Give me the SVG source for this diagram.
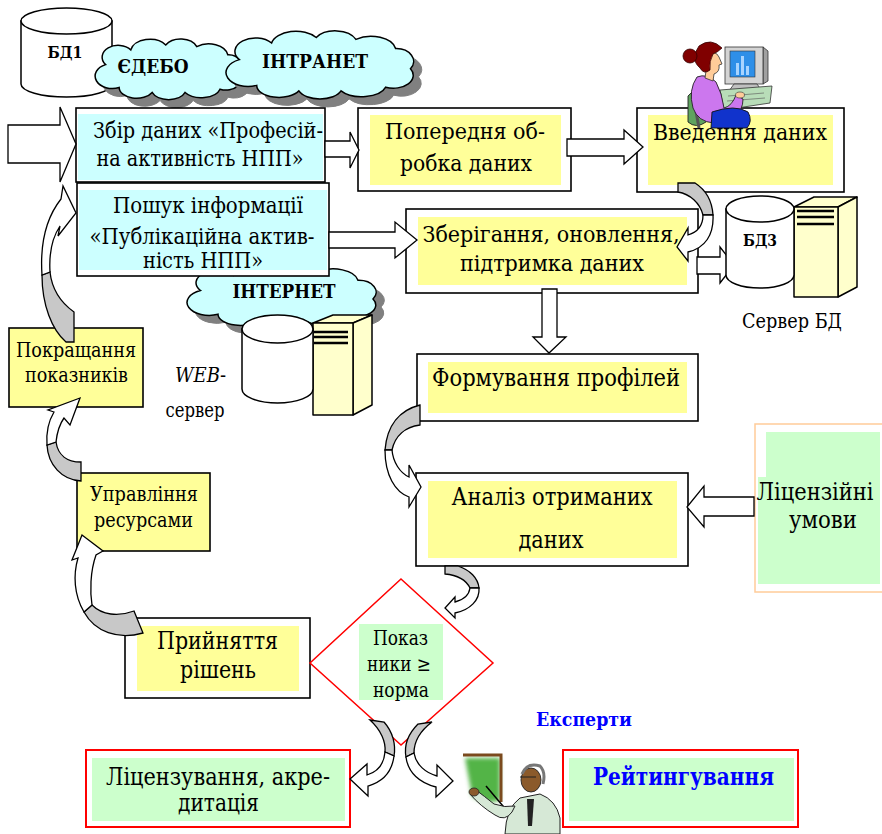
<svg xmlns="http://www.w3.org/2000/svg" width="882" height="834" viewBox="0 0 882 834">
<style>
  .t { font-family: "DejaVu Serif Condensed", "DejaVu Serif", "Liberation Serif", serif; font-stretch: condensed; fill: #000; }
  .b { font-weight: bold; }
  .box { fill: #fff; stroke: #000; stroke-width: 1.6; }
  .yel { fill: #FFFF99; }
  .cyan { fill: #CCFFFF; }
  .grn { fill: #CCFFCC; }
  .redbox { fill: #fff; stroke: #FF0000; stroke-width: 2; }
  .ar { fill: #fff; stroke: #000; stroke-width: 1.3; stroke-linejoin: miter; }
  .gr { fill: #C8C8C8; stroke: #000; stroke-width: 1.3; }
  .cyl { fill: #fff; stroke: #000; stroke-width: 1.5; }
  .srv { fill: #FFFFCC; stroke: #000; stroke-width: 1.5; stroke-linejoin: round; }
  .slot { stroke: #000; stroke-width: 2.5; }
</style>
<defs>
  <path id="cloud" vector-effect="non-scaling-stroke" d="M 14 30 A 16 14 0 0 1 40 12 A 20 16 0 0 1 76 6 A 18 15 0 0 1 108 8 A 20 16 0 0 1 140 18 A 14 14 0 0 1 152 40 A 16 14 0 0 1 132 60 A 20 14 0 0 1 96 64 A 18 13 0 0 1 62 64 A 18 13 0 0 1 28 58 A 14 12 0 0 1 14 30 Z"/>
  <filter id="soft" x="-20%" y="-20%" width="140%" height="140%">
    <feGaussianBlur stdDeviation="2"/>
  </filter>
</defs>

<!-- database БД1 -->
<g id="db1">
  <path class="cyl" d="M 21 21 L 21 84 A 45.5 13 0 0 0 112 84 L 112 21 Z"/>
  <ellipse class="cyl" cx="66.5" cy="21" rx="45.5" ry="13"/>
  <text class="t b" x="65" y="58" font-size="16" text-anchor="middle" textLength="35" lengthAdjust="spacingAndGlyphs">БД1</text>
</g>

<!-- network clouds -->
<g id="cloud-edebo">
  <use href="#cloud" transform="translate(100 48) scale(0.97 0.82)" fill="#808080" stroke="#808080"/>
  <use href="#cloud" transform="translate(92 40) scale(0.97 0.82)" fill="#CCFFFF" stroke="#000" stroke-width="1.5"/>
  <text class="t b" x="153" y="73" font-size="18" text-anchor="middle" textLength="71" lengthAdjust="spacingAndGlyphs">ЄДЕБО</text>
</g>
<g id="cloud-intranet">
  <use href="#cloud" transform="translate(230 40) scale(1.24 0.92)" fill="#808080" stroke="#808080"/>
  <use href="#cloud" transform="translate(222 32) scale(1.24 0.92)" fill="#CCFFFF" stroke="#000" stroke-width="1.5"/>
  <text class="t b" x="315" y="68" font-size="19" text-anchor="middle" textLength="106" lengthAdjust="spacingAndGlyphs">ІНТРАНЕТ</text>
</g>
<g id="cloud-internet">
  <use href="#cloud" transform="translate(191 273) scale(1.25 0.85)" fill="#808080" stroke="#808080"/>
  <use href="#cloud" transform="translate(183 265) scale(1.25 0.85)" fill="#CCFFFF" stroke="#000" stroke-width="1.5"/>
  <text class="t b" x="284" y="298" font-size="19" text-anchor="middle" textLength="103" lengthAdjust="spacingAndGlyphs">ІНТЕРНЕТ</text>
</g>

<!-- WEB server -->
<g id="web-server">
  <polygon class="srv" points="313,323 333,315 372,315 353,323"/>
  <polygon class="srv" points="353,323 372,315 372,405 353,415"/>
  <rect class="srv" x="313" y="323" width="40" height="92"/>
  <line class="slot" x1="314" y1="332" x2="348" y2="332"/>
  <line class="slot" x1="314" y1="337" x2="348" y2="337"/>
  <line class="slot" x1="314" y1="343" x2="348" y2="343"/>
  <path class="cyl" d="M 242 329 L 242 389 A 35.5 14 0 0 0 313 389 L 313 329 Z"/>
  <ellipse class="cyl" cx="277.5" cy="329" rx="35.5" ry="14"/>
  <text class="t" x="175" y="382" font-size="20" textLength="51" lengthAdjust="spacingAndGlyphs"><tspan font-style="italic">WEB</tspan>-</text>
  <text class="t" x="195" y="417" font-size="20" text-anchor="middle" textLength="59" lengthAdjust="spacingAndGlyphs">сервер</text>
</g>

<!-- process boxes -->
<g id="collect">
  <rect class="box" x="76" y="108" width="249" height="74"/>
  <rect class="cyan" x="78" y="114" width="245" height="66"/>
  <text class="t" font-size="22" text-anchor="middle" x="208" y="138" textLength="230" lengthAdjust="spacingAndGlyphs">Збір даних «Професій-</text>
  <text class="t" font-size="22" text-anchor="middle" x="200" y="166" textLength="207" lengthAdjust="spacingAndGlyphs">на активність НПП»</text>
</g>
<g id="search">
  <rect class="box" x="77" y="183" width="252" height="93"/>
  <rect class="cyan" x="79" y="190" width="248" height="80"/>
  <text class="t" font-size="22" text-anchor="middle" x="208" y="213" textLength="190" lengthAdjust="spacingAndGlyphs">Пошук інформації</text>
  <text class="t" font-size="22" text-anchor="middle" x="202" y="244" textLength="225" lengthAdjust="spacingAndGlyphs">«Публікаційна актив-</text>
  <text class="t" font-size="22" text-anchor="middle" x="203" y="268" textLength="120" lengthAdjust="spacingAndGlyphs">ність НПП»</text>
</g>
<g id="preprocess">
  <rect class="box" x="358" y="108" width="213" height="83"/>
  <rect class="yel" x="370" y="115" width="191" height="70"/>
  <text class="t" font-size="23" text-anchor="middle" x="465" y="139" textLength="160" lengthAdjust="spacingAndGlyphs">Попередня об-</text>
  <text class="t" font-size="23" text-anchor="middle" x="466" y="171" textLength="132" lengthAdjust="spacingAndGlyphs">робка даних</text>
</g>
<g id="input">
  <rect class="box" x="637" y="108" width="207" height="84"/>
  <rect class="yel" x="648" y="115" width="185" height="70"/>
  <text class="t" font-size="23" x="740" y="140" text-anchor="middle" textLength="174" lengthAdjust="spacingAndGlyphs">Введення даних</text>
</g>
<g id="storage">
  <rect class="box" x="406" y="209" width="292" height="84"/>
  <rect class="yel" x="418" y="217" width="269" height="68"/>
  <text class="t" font-size="23" text-anchor="middle" x="551" y="242" textLength="257" lengthAdjust="spacingAndGlyphs">Зберігання, оновлення,</text>
  <text class="t" font-size="23" text-anchor="middle" x="552" y="271" textLength="184" lengthAdjust="spacingAndGlyphs">підтримка даних</text>
</g>
<g id="profiles">
  <rect class="box" x="417" y="354" width="281" height="67"/>
  <rect class="yel" x="428" y="362" width="259" height="51"/>
  <text class="t" font-size="24" x="556" y="386" text-anchor="middle" textLength="248" lengthAdjust="spacingAndGlyphs">Формування профілей</text>
</g>
<g id="analysis">
  <rect class="box" x="416" y="473" width="272" height="93"/>
  <rect class="yel" x="428" y="481" width="249" height="77"/>
  <text class="t" font-size="25" text-anchor="middle" x="552" y="505" textLength="201" lengthAdjust="spacingAndGlyphs">Аналіз отриманих</text>
  <text class="t" font-size="25" text-anchor="middle" x="551" y="548" textLength="65" lengthAdjust="spacingAndGlyphs">даних</text>
</g>
<g id="license-terms">
  <rect x="755" y="424" width="140" height="168" fill="#fff" stroke="#FFCC99" stroke-width="1.5"/>
  <rect class="grn" x="766" y="432" width="114" height="152"/>
  <rect class="grn" x="758" y="477" width="10" height="107"/>
  <text class="t" font-size="24" text-anchor="middle" x="815" y="500" textLength="117" lengthAdjust="spacingAndGlyphs">Ліцензійні</text>
  <text class="t" font-size="24" text-anchor="middle" x="823" y="528" textLength="68" lengthAdjust="spacingAndGlyphs">умови</text>
</g>
<g id="improve">
  <rect x="9" y="328" width="134" height="79" fill="#FFFF99" stroke="#000" stroke-width="1.6"/>
  <text class="t" font-size="20" text-anchor="middle" x="76" y="357" textLength="120" lengthAdjust="spacingAndGlyphs">Покращання</text>
  <text class="t" font-size="20" text-anchor="middle" x="76.5" y="382" textLength="103" lengthAdjust="spacingAndGlyphs">показників</text>
</g>
<g id="resources">
  <rect x="77" y="473" width="133" height="78" fill="#FFFF99" stroke="#000" stroke-width="1.6"/>
  <text class="t" font-size="20" text-anchor="middle" x="144" y="501" textLength="108" lengthAdjust="spacingAndGlyphs">Управління</text>
  <text class="t" font-size="20" text-anchor="middle" x="143.5" y="527" textLength="99" lengthAdjust="spacingAndGlyphs">ресурсами</text>
</g>
<g id="decision">
  <rect class="box" x="125" y="618" width="185" height="80"/>
  <rect class="yel" x="137" y="626" width="162" height="65"/>
  <text class="t" font-size="24.5" text-anchor="middle" x="217.5" y="649" textLength="121" lengthAdjust="spacingAndGlyphs">Прийняття</text>
  <text class="t" font-size="24.5" text-anchor="middle" x="218" y="678" textLength="76" lengthAdjust="spacingAndGlyphs">рішень</text>
</g>
<g id="check">
  <polygon points="401,579 493,663 401,745 310,663" fill="#fff" stroke="#FF0000" stroke-width="1.5"/>
  <rect class="grn" x="359" y="624" width="84" height="76"/>
  <text class="t" font-size="20" text-anchor="middle" x="400.5" y="645" textLength="55" lengthAdjust="spacingAndGlyphs">Показ</text>
  <text class="t" font-size="20" text-anchor="middle" x="399" y="671" textLength="64" lengthAdjust="spacingAndGlyphs">ники ≥</text>
  <text class="t" font-size="20" text-anchor="middle" x="401" y="697" textLength="56" lengthAdjust="spacingAndGlyphs">норма</text>
</g>
<g id="licensing">
  <rect class="redbox" x="86" y="750" width="264" height="77"/>
  <rect class="grn" x="92" y="758" width="253" height="63"/>
  <text class="t" font-size="24" text-anchor="middle" x="218" y="785" textLength="224" lengthAdjust="spacingAndGlyphs">Ліцензування, акре-</text>
  <text class="t" font-size="24" text-anchor="middle" x="218.5" y="811" textLength="81" lengthAdjust="spacingAndGlyphs">дитація</text>
</g>
<g id="rating">
  <rect class="redbox" x="563" y="750" width="235" height="77"/>
  <rect class="grn" x="569" y="758" width="225" height="63"/>
  <text class="t b" font-size="25" x="683.5" y="785" text-anchor="middle" style="fill:#0000FF" textLength="181" lengthAdjust="spacingAndGlyphs">Рейтингування</text>
</g>
<g id="experts-label">
  <text class="t b" font-size="19" x="584" y="726" text-anchor="middle" style="fill:#0000FF" textLength="96" lengthAdjust="spacingAndGlyphs">Експерти</text>
</g>

<!-- connectors -->
<g id="connectors">
  <!-- block arrows -->
  <polygon class="ar" points="8,125 60,125 60,107 76,144 60,182 60,163 8,163"/>
  <polygon class="ar" points="325,141 350,141 350,132 359,150 350,168 350,157 325,157"/>
  <polygon class="ar" points="567,139 624,139 624,130 643,147 624,164 624,156 567,156"/>
  <polygon class="ar" points="329,232 395,232 395,222 417,240 395,258 395,248 329,248"/>
  <polygon class="ar" points="697,257 720,257 720,247 734,265 720,283 720,274 697,274"/>
  <polygon class="ar" points="542,289 557,289 557,337 566,337 549,353 533,337 542,337"/>
  <polygon class="ar" points="754,497 704,497 704,486 687,507 704,527 704,516 754,516"/>

  <!-- curved arrows: input -> storage -->
  <path class="gr" d="M 678 183 L 695 183 C 706 190 712 200 713 215 L 703 215 C 700 203 690 194 678 192 Z"/>
  <path class="ar" d="M 713 215 C 714 235 705 248 688 252 L 688 261 L 677 247 L 688 228 L 688 235 C 698 232 703 225 703 215 Z"/>
  <!-- profiles -> analysis -->
  <path class="gr" d="M 420 405 L 420 425 C 405 427 395 436 392 450 L 385 450 C 387 425 400 410 420 405 Z"/>
  <path class="ar" d="M 385 450 C 385 475 395 492 409 497 L 409 507 L 421 487 L 409 465 L 409 477 C 400 473 393 462 392 450 Z"/>
  <!-- analysis -> check -->
  <path class="gr" d="M 445 566 L 458 566 C 470 570 478 578 479 588 L 470 588 C 466 580 457 575 445 574 Z"/>
  <path class="ar" d="M 479 588 C 480 600 470 610 455 613 L 455 618 L 445 608 L 455 597 L 455 602 C 463 600 469 595 470 588 Z"/>
  <!-- check -> licensing -->
  <path class="gr" d="M 370 720 L 384 722 C 393 732 396 745 394 756 L 385 752 C 386 742 381 730 370 720 Z"/>
  <path class="ar" d="M 394 756 C 392 772 382 782 368 786 L 368 796 L 350 779 L 367 764 L 367 775 C 377 772 384 764 385 752 Z"/>
  <!-- check -> rating -->
  <path class="gr" d="M 432 722 L 418 724 C 408 734 404 746 406 757 L 414 753 C 414 742 420 731 432 722 Z"/>
  <path class="ar" d="M 406 757 C 408 773 420 783 436 787 L 436 797 L 453 781 L 437 765 L 437 776 C 426 773 416 765 414 753 Z"/>
  <!-- decision -> resources -->
  <path class="gr" d="M 134 611 L 143 633 C 118 640 95 632 84 612 L 92 605 C 102 615 118 617 134 611 Z"/>
  <path class="ar" d="M 84 612 C 74 595 73 575 78 558 L 72 560 L 82 535 L 103 551 L 96 555 C 90 572 90 592 92 605 Z"/>
  <!-- resources -> improve -->
  <path class="gr" d="M 81 462 L 81 481 C 62 480 48 465 47 445 L 56 442 C 58 455 67 462 81 462 Z"/>
  <path class="ar" d="M 47 445 C 46 432 48 422 54 412 L 48 410 L 80 398 L 70 425 L 64 418 C 59 425 57 433 56 442 Z"/>
  <!-- improve -> search -->
  <path class="gr" d="M 74 342 L 74 312 C 60 302 52 290 50 272 L 42 275 C 42 305 52 330 66 342 Z"/>
  <path class="ar" d="M 42 275 C 40 245 46 218 61 199 L 63 186 L 76 213 L 58 236 L 60 226 C 52 238 49 255 50 272 Z"/>
</g>

<!-- database server БД3 -->
<g id="db3-server">
  <polygon class="srv" points="794,207 814,197 857,197 838,207"/>
  <polygon class="srv" points="838,207 857,197 857,287 838,297"/>
  <rect class="srv" x="794" y="207" width="44" height="90"/>
  <line class="slot" x1="797" y1="211" x2="834" y2="211"/>
  <line class="slot" x1="797" y1="217" x2="834" y2="217"/>
  <line class="slot" x1="797" y1="224" x2="834" y2="224"/>
  <path class="cyl" d="M 726 209 L 726 275 A 34 13 0 0 0 794 275 L 794 209 Z"/>
  <ellipse class="cyl" cx="760" cy="209" rx="34" ry="13"/>
  <text class="t b" x="760" y="246" font-size="17" text-anchor="middle" textLength="34" lengthAdjust="spacingAndGlyphs">БД3</text>
  <text class="t" x="792" y="328" font-size="20" text-anchor="middle" textLength="100" lengthAdjust="spacingAndGlyphs">Сервер БД</text>
</g>

<!-- operator at the workstation -->
<g id="operator">
  <polygon points="763,47 768,51 768,81 763,84" fill="#A0A0A0" stroke="#333" stroke-width="0.8"/>
  <rect x="725" y="47" width="38" height="37" fill="#D4D4D4" stroke="#333" stroke-width="0.8"/>
  <rect x="730" y="51" width="25" height="26" fill="#2E8FE8" stroke="#333" stroke-width="0.6"/>
  <rect x="736" y="63" width="3" height="12" fill="#A8D4FF"/>
  <rect x="741" y="56" width="3" height="19" fill="#A8D4FF"/>
  <rect x="746" y="66" width="3" height="9" fill="#A8D4FF"/>
  <polygon points="734,84 757,84 762,91 729,91" fill="#C0C0C0" stroke="#333" stroke-width="0.8"/>
  <polygon points="720,90 772,86 770,103 724,110" fill="#B8DDB8" stroke="#333" stroke-width="0.8"/>
  <path d="M 728 96 L 764 93 M 727 101 L 765 98" stroke="#555" stroke-width="0.6" fill="none"/>
  <path d="M 688 96 Q 694 88 705 92 L 706 122 Q 696 129 688 122 Z" fill="#5FA35F" stroke="#222" stroke-width="0.9"/>
  <line x1="694" y1="100" x2="699" y2="128" stroke="#555" stroke-width="3"/>
  <path d="M 697 77 Q 688 90 693 108 Q 698 122 714 123 L 735 116 Q 743 110 743 99 L 736 95 Q 732 106 724 108 Q 722 93 716 82 Q 707 73 697 77 Z" fill="#CC77EE" stroke="#222" stroke-width="0.9"/>
  <path d="M 712 112 Q 735 104 748 112 Q 753 121 747 128 L 711 128 Z" fill="#1133CC" stroke="#111" stroke-width="0.9"/>
  <ellipse cx="740" cy="95" rx="4.5" ry="3" fill="#FFCC99" stroke="#333" stroke-width="0.6"/>
  <path d="M 708 56 Q 715 49 719 57 L 722 64 L 719 65 Q 720 72 714 74 L 713 81 L 705 78 Z" fill="#FFCC99" stroke="#333" stroke-width="0.8"/>
  <path d="M 699 46 Q 711 37 722 48 Q 718 52 713 54 Q 709 61 710 70 Q 704 75 700 68 Q 694 63 694 55 Z" fill="#800000" stroke="#330000" stroke-width="0.8"/>
  <circle cx="690" cy="56" r="7" fill="#800000" stroke="#330000" stroke-width="0.8"/>
</g>

<!-- expert with a board -->
<g id="expert">
  <path d="M 465 758 L 500 758 L 500 800 Q 486 806 472 796 Z" fill="#52B447" filter="url(#soft)"/>
  <polyline points="463,755 501,755 501,802" fill="none" stroke="#7B4A1E" stroke-width="3"/>
  <line x1="486" y1="786" x2="508" y2="812" stroke="#000" stroke-width="1.5"/>
  <path d="M 505 834 Q 506 808 520 798 L 540 794 Q 556 800 560 818 L 560 834 Z" fill="#D6E8D6" stroke="#222" stroke-width="1"/>
  <path d="M 470 794 Q 480 806 495 815 Q 505 822 512 812 L 515 806 Q 505 808 494 804 Q 484 796 476 790 Z" fill="#D6E8D6" stroke="#222" stroke-width="1"/>
  <ellipse cx="474" cy="792" rx="5" ry="4" fill="#8B5A2B" stroke="#222" stroke-width="0.8"/>
  <polygon points="527,799 534,799 532,826 528,826" fill="#222"/>
  <ellipse cx="531" cy="780" rx="10" ry="12" fill="#8B5A2B" stroke="#222" stroke-width="0.9"/>
  <path d="M 522 774 Q 527 762 540 766 Q 546 772 543 784" fill="none" stroke="#777" stroke-width="3"/>
  <path d="M 520 777 L 536 777" stroke="#222" stroke-width="1" fill="none"/>
</g>
</svg>
